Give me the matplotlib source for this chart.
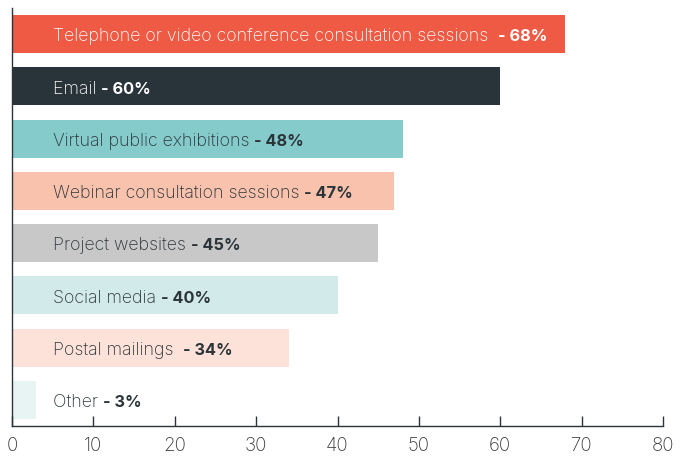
import matplotlib
matplotlib.use("Agg")
import matplotlib.pyplot as plt

# data, top to bottom
labels = [
    "Telephone or video conference consultation sessions  ",
    "Email ",
    "Virtual public exhibitions ",
    "Webinar consultation sessions ",
    "Project websites ",
    "Social media ",
    "Postal mailings  ",
    "Other ",
]
values = [68, 60, 48, 47, 45, 40, 34, 3]
colors = ["#EE5A44", "#29333A", "#85CBCC", "#F8C2AD",
          "#C8C8C9", "#D2EAEA", "#FDE2D9", "#E8F4F4"]
text_colors = ["white", "white", "#2B3439", "#2B3439",
               "#2B3439", "#2B3439", "#2B3439", "#2B3439"]
xticks = [0, 10, 20, 30, 40, 50, 60, 70, 80]

plt.rcParams['font.family'] = ['Inter', 'DejaVu Sans']

fig = plt.figure(figsize=(6.9, 4.59), dpi=100)
ax = fig.add_axes([12 / 690, 33 / 459, 651 / 690, 418 / 459])

ypos = list(range(len(values)))
ax.barh(ypos, values, height=0.73, color=colors)
ax.set_ylim(7.5, -0.5)
ax.set_xlim(0, 80)

# normal part of each label first, then the bold percentage right after it
texts = []
for y, lab, tc in zip(ypos, labels, text_colors):
    t = ax.text(5, y + 0.14, lab, color=tc, fontsize=12.8, va='baseline',
                ha='left', fontweight='light')
    texts.append(t)

fig.canvas.draw()
r = fig.canvas.get_renderer()
inv = ax.transData.inverted()
for t, y, v, tc in zip(texts, ypos, values, text_colors):
    bb = t.get_window_extent(renderer=r)
    x_end = inv.transform((bb.x1, bb.y0))[0]
    ax.text(x_end, y + 0.14, "- %d%%" % v, color=tc, fontsize=11.8,
            fontweight='bold', va='baseline', ha='left')

ax.set_xticks(xticks)
ax.set_yticks([])
for s in ['top', 'right']:
    ax.spines[s].set_visible(False)
for s in ['left', 'bottom']:
    ax.spines[s].set_color('#2B3439')
    ax.spines[s].set_linewidth(1.0)
ax.tick_params(axis='x', direction='in', length=7, width=1, color='#2B3439',
               labelsize=13.5, labelcolor='#3A3A3A', pad=8)
for lbl in ax.get_xticklabels():
    lbl.set_fontweight('light')

fig.savefig("out.png", dpi=100)
